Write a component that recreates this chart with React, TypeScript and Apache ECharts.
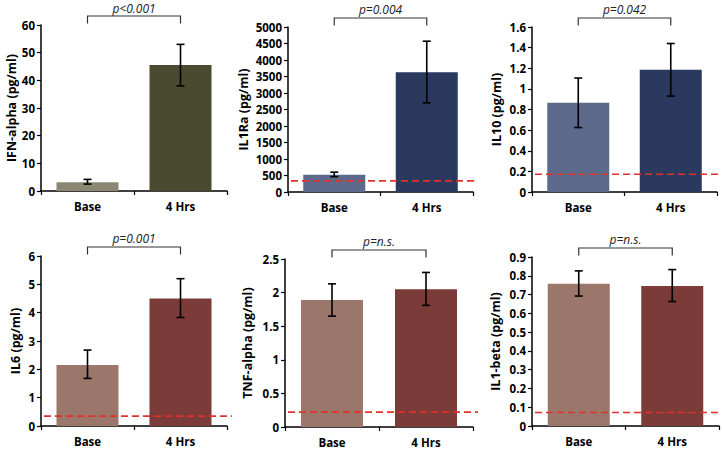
import React, { useEffect, useRef } from "react";
import * as echarts from "echarts";

const categories = ["Base", "4 Hrs"];
const yTitles = ["IFN-alpha (pg/ml)", "IL1Ra (pg/ml)", "IL10 (pg/ml)", "IL6 (pg/ml)", "TNF-alpha (pg/ml)", "IL1-beta (pg/ml)"];
const pLabels = ["p<0.001", "p=0.004", "p=0.042", "p=0.001", "p=n.s.", "p=n.s."];

const ifnAlpha = [3.2, 45.5];
const ifnAlphaErr = [[2.5, 4.2], [38, 53]];
const il1ra = [520, 3630];
const il1raErr = [[465, 600], [2700, 4570]];
const il10 = [0.865, 1.185];
const il10Err = [[0.625, 1.105], [0.93, 1.44]];
const il6 = [2.15, 4.5];
const il6Err = [[1.68, 2.68], [3.83, 5.2]];
const tnfAlpha = [1.89, 2.05];
const tnfAlphaErr = [[1.65, 2.13], [1.81, 2.3]];
const il1beta = [0.758, 0.745];
const il1betaErr = [[0.692, 0.826], [0.663, 0.833]];

const thresholds = [null, 340, 0.172, 0.35, 0.222, 0.072];
const yMax = [60, 5000, 1.6, 6, 2.5, 0.9];
const yInterval = [10, 500, 0.2, 1, 0.5, 0.1];

const values = [ifnAlpha, il1ra, il10, il6, tnfAlpha, il1beta];
const errors = [ifnAlphaErr, il1raErr, il10Err, il6Err, tnfAlphaErr, il1betaErr];

const barColors = [
  ["#8a8872", "#4a4a30"],
  ["#5e6a8b", "#2b395f"],
  ["#5e6a8b", "#2b395f"],
  ["#9b766b", "#7b3b39"],
  ["#9b766b", "#7b3b39"],
  ["#9b766b", "#7b3b39"],
];

const grids = [
  { left: 41, top: 25, width: 186, height: 166 },
  { left: 288, top: 27, width: 185, height: 165 },
  { left: 532, top: 27, width: 185, height: 165 },
  { left: 41, top: 256, width: 186, height: 170 },
  { left: 285, top: 259, width: 188, height: 168 },
  { left: 532, top: 257, width: 187, height: 169 },
];
const nameGaps = [22, 38, 29, 19, 31, 30];

const FONT = "'Open Sans', 'Liberation Sans', sans-serif";

export default function App() {
  const ref = useRef<HTMLDivElement>(null);
  useEffect(() => {
    if (!ref.current) return;
    const chart = echarts.init(ref.current, null, { renderer: "svg" });
    const xAxis: any[] = [];
    const yAxis: any[] = [];
    const series: any[] = [];
    grids.forEach((g, i) => {
      xAxis.push({
        type: "category",
        gridIndex: i,
        data: categories,
        axisLine: { lineStyle: { color: "#000", width: 1.5 } },
        axisTick: { show: true, length: 4, lineStyle: { color: "#000", width: 1.2 } },
        axisLabel: { color: "#000", fontWeight: "bold", fontSize: 11.5, fontFamily: FONT, margin: 9 },
      });
      yAxis.push({
        type: "value",
        gridIndex: i,
        min: 0,
        max: yMax[i],
        interval: yInterval[i],
        name: yTitles[i],
        nameLocation: "middle",
        nameGap: nameGaps[i],
        nameTextStyle: { color: "#000", fontWeight: "bold", fontSize: 12.5, fontFamily: FONT },
        splitLine: { show: false },
        axisLine: { show: true, lineStyle: { color: "#000", width: 1.5 } },
        axisTick: { show: true, length: 4, lineStyle: { color: "#000", width: 1.2 } },
        axisLabel: {
          color: "#000",
          fontWeight: "bold",
          fontSize: 11.5,
          fontFamily: FONT,
          margin: 6,
          formatter: (v: number) => String(+v.toFixed(2)),
        },
      });
      series.push({
        type: "bar",
        xAxisIndex: i,
        yAxisIndex: i,
        barWidth: 62,
        data: values[i].map((v, k) => ({ value: v, itemStyle: { color: barColors[i][k] } })),
        z: 2,
      });
      if (thresholds[i] != null) {
        series.push({
          type: "custom",
          xAxisIndex: i,
          yAxisIndex: i,
          z: 4,
          data: [[0, thresholds[i]]],
          renderItem: (params: any, api: any) => {
            const cs = params.coordSys;
            const y = api.coord([0, api.value(1)])[1];
            return {
              type: "line",
              shape: { x1: cs.x + 3, y1: y, x2: cs.x + cs.width + 5, y2: y },
              style: { stroke: "#e2312b", lineWidth: 1.7, lineDash: [7, 4] },
            };
          },
        });
      }
      series.push({
        type: "custom",
        xAxisIndex: i,
        yAxisIndex: i,
        z: 5,
        data: errors[i].map((e, k) => [k, e[0], e[1]]),
        renderItem: (params: any, api: any) => {
          const lo = api.coord([api.value(0), api.value(1)]);
          const hi = api.coord([api.value(0), api.value(2)]);
          const x = lo[0];
          const cap = 4;
          const st = { stroke: "#000", lineWidth: 1.6 };
          return {
            type: "group",
            children: [
              { type: "line", shape: { x1: x, y1: lo[1], x2: x, y2: hi[1] }, style: st },
              { type: "line", shape: { x1: x - cap, y1: lo[1], x2: x + cap, y2: lo[1] }, style: st },
              { type: "line", shape: { x1: x - cap, y1: hi[1], x2: x + cap, y2: hi[1] }, style: st },
            ],
          };
        },
      });
      series.push({
        type: "custom",
        xAxisIndex: i,
        yAxisIndex: i,
        z: 5,
        data: [[0, 1, pLabels[i]]],
        renderItem: (params: any, api: any) => {
          const cs = params.coordSys;
          const a = api.coord([0, 0])[0];
          const b = api.coord([1, 0])[0];
          const top = cs.y;
          return {
            type: "group",
            children: [
              {
                type: "polyline",
                shape: { points: [[a, top - 1.5], [a, top - 9], [b, top - 9], [b, top - 1.5]] },
                style: { stroke: "#333", lineWidth: 1.2, fill: "none" },
              },
              {
                type: "text",
                x: (a + b) / 2,
                y: Math.max(top - 18, 8),
                style: {
                  text: pLabels[i],
                  align: "center",
                  verticalAlign: "middle",
                  lineHeight: 12,
                  fill: "#222",
                  fontStyle: "italic",
                  fontSize: 12,
                  fontFamily: FONT,
                },
              },
            ],
          };
        },
      });
    });
    chart.setOption({
      animation: false,
      backgroundColor: "#fff",
      grid: grids.map((g) => ({ ...g, containLabel: false })),
      xAxis,
      yAxis,
      series,
    });
    return () => chart.dispose();
  }, []);
  return <div ref={ref} style={{ position: "fixed", left: 0, top: 0, width: 722, height: 449 }} />;
}
